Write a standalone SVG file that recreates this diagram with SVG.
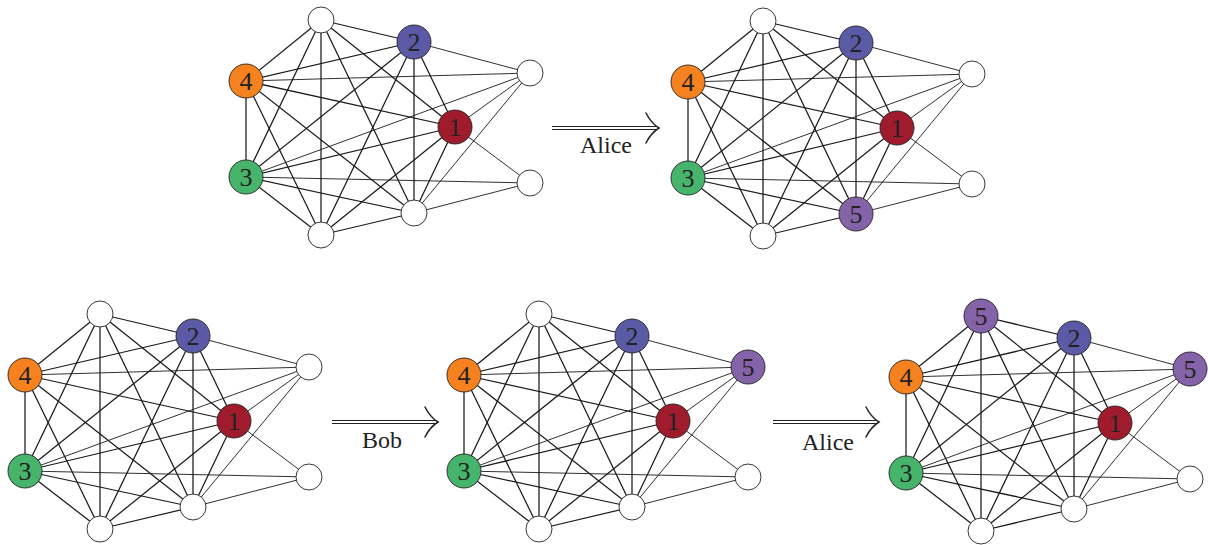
<svg xmlns="http://www.w3.org/2000/svg" width="1208" height="545" viewBox="0 0 1208 545">
<style>
.e{stroke:#1a1a1a;stroke-width:1.25;fill:none}
.t{stroke:#1a1a1a;stroke-width:0.9;fill:none}
.w{fill:#fff;stroke:#222;stroke-width:0.9}
.c{stroke:#222;stroke-width:0.9}
.o{fill:#F5821F}.b{fill:#5A5AA6}.r{fill:#A01C2D}.g{fill:#46B46B}.p{fill:#8463A9}
.l{font-family:"Liberation Serif","DejaVu Serif",serif;font-size:26px;fill:#222;text-anchor:middle}
.a{stroke:#222;stroke-width:1;fill:none}
.h{stroke:#222;stroke-width:1.5;fill:none;stroke-linecap:round}
.at{font-family:"Liberation Serif","DejaVu Serif",serif;font-size:24px;fill:#222}
</style>
<rect width="1208" height="545" fill="#fff"/>

<!-- Graph 1 -->
<g id="graph1" transform="translate(246,81)">
<g id="graph1-edges">
<line class="e" x1="75" y1="-61" x2="168" y2="-39"/><line class="e" x1="75" y1="-61" x2="0" y2="0"/><line class="e" x1="75" y1="-61" x2="0" y2="96"/><line class="e" x1="75" y1="-61" x2="75" y2="154"/><line class="e" x1="75" y1="-61" x2="168" y2="132"/><line class="e" x1="75" y1="-61" x2="209" y2="46"/>
<line class="e" x1="168" y1="-39" x2="0" y2="0"/><line class="e" x1="168" y1="-39" x2="209" y2="46"/><line class="e" x1="168" y1="-39" x2="168" y2="132"/><line class="e" x1="168" y1="-39" x2="0" y2="96"/><line class="e" x1="168" y1="-39" x2="75" y2="154"/>
<line class="e" x1="0" y1="0" x2="209" y2="46"/><line class="e" x1="0" y1="0" x2="0" y2="96"/><line class="e" x1="0" y1="0" x2="75" y2="154"/><line class="e" x1="0" y1="0" x2="168" y2="132"/>
<line class="e" x1="209" y1="46" x2="0" y2="96"/><line class="e" x1="209" y1="46" x2="168" y2="132"/><line class="e" x1="209" y1="46" x2="75" y2="154"/>
<line class="e" x1="0" y1="96" x2="168" y2="132"/><line class="e" x1="0" y1="96" x2="75" y2="154"/><line class="e" x1="168" y1="132" x2="75" y2="154"/>
<line class="t" x1="168" y1="-39" x2="284" y2="-8"/><line class="t" x1="0" y1="0" x2="284" y2="-8"/><line class="t" x1="209" y1="46" x2="284" y2="-8"/><line class="t" x1="0" y1="96" x2="284" y2="-8"/><line class="t" x1="284" y1="-8" x2="168" y2="132"/><line class="t" x1="209" y1="46" x2="284" y2="102"/><line class="t" x1="0" y1="96" x2="284" y2="102"/><line class="t" x1="284" y1="102" x2="168" y2="132"/>
</g>
<g id="g1-top"><circle class="w" cx="75" cy="-61" r="13"/></g>
<g id="g1-n2"><circle class="c b" cx="168" cy="-39" r="17"/><text class="l" x="168" y="-30">2</text></g>
<g id="g1-rt"><circle class="w" cx="284" cy="-8" r="13"/></g>
<g id="g1-n4"><circle class="c o" cx="0" cy="0" r="17"/><text class="l" x="0" y="9">4</text></g>
<g id="g1-n1"><circle class="c r" cx="209" cy="46" r="17"/><text class="l" x="209" y="55">1</text></g>
<g id="g1-n3"><circle class="c g" cx="0" cy="96" r="17"/><text class="l" x="0" y="105">3</text></g>
<g id="g1-rb"><circle class="w" cx="284" cy="102" r="13"/></g>
<g id="g1-bm"><circle class="w" cx="168" cy="132" r="13"/></g>
<g id="g1-bt"><circle class="w" cx="75" cy="154" r="13"/></g>
</g>

<!-- Graph 2 -->
<g id="graph2" transform="translate(688,82)">
<g id="graph2-edges">
<line class="e" x1="75" y1="-61" x2="168" y2="-39"/><line class="e" x1="75" y1="-61" x2="0" y2="0"/><line class="e" x1="75" y1="-61" x2="0" y2="96"/><line class="e" x1="75" y1="-61" x2="75" y2="154"/><line class="e" x1="75" y1="-61" x2="168" y2="132"/><line class="e" x1="75" y1="-61" x2="209" y2="46"/>
<line class="e" x1="168" y1="-39" x2="0" y2="0"/><line class="e" x1="168" y1="-39" x2="209" y2="46"/><line class="e" x1="168" y1="-39" x2="168" y2="132"/><line class="e" x1="168" y1="-39" x2="0" y2="96"/><line class="e" x1="168" y1="-39" x2="75" y2="154"/>
<line class="e" x1="0" y1="0" x2="209" y2="46"/><line class="e" x1="0" y1="0" x2="0" y2="96"/><line class="e" x1="0" y1="0" x2="75" y2="154"/><line class="e" x1="0" y1="0" x2="168" y2="132"/>
<line class="e" x1="209" y1="46" x2="0" y2="96"/><line class="e" x1="209" y1="46" x2="168" y2="132"/><line class="e" x1="209" y1="46" x2="75" y2="154"/>
<line class="e" x1="0" y1="96" x2="168" y2="132"/><line class="e" x1="0" y1="96" x2="75" y2="154"/><line class="e" x1="168" y1="132" x2="75" y2="154"/>
<line class="t" x1="168" y1="-39" x2="284" y2="-8"/><line class="t" x1="0" y1="0" x2="284" y2="-8"/><line class="t" x1="209" y1="46" x2="284" y2="-8"/><line class="t" x1="0" y1="96" x2="284" y2="-8"/><line class="t" x1="284" y1="-8" x2="168" y2="132"/><line class="t" x1="209" y1="46" x2="284" y2="102"/><line class="t" x1="0" y1="96" x2="284" y2="102"/><line class="t" x1="284" y1="102" x2="168" y2="132"/>
</g>
<g id="g2-top"><circle class="w" cx="75" cy="-61" r="13"/></g>
<g id="g2-n2"><circle class="c b" cx="168" cy="-39" r="17"/><text class="l" x="168" y="-30">2</text></g>
<g id="g2-rt"><circle class="w" cx="284" cy="-8" r="13"/></g>
<g id="g2-n4"><circle class="c o" cx="0" cy="0" r="17"/><text class="l" x="0" y="9">4</text></g>
<g id="g2-n1"><circle class="c r" cx="209" cy="46" r="17"/><text class="l" x="209" y="55">1</text></g>
<g id="g2-n3"><circle class="c g" cx="0" cy="96" r="17"/><text class="l" x="0" y="105">3</text></g>
<g id="g2-rb"><circle class="w" cx="284" cy="102" r="13"/></g>
<g id="g2-n5"><circle class="c p" cx="168" cy="132" r="17"/><text class="l" x="168" y="141">5</text></g>
<g id="g2-bt"><circle class="w" cx="75" cy="154" r="13"/></g>
</g>

<!-- Graph 3 -->
<g id="graph3" transform="translate(25,375)">
<g id="graph3-edges">
<line class="e" x1="75" y1="-61" x2="168" y2="-39"/><line class="e" x1="75" y1="-61" x2="0" y2="0"/><line class="e" x1="75" y1="-61" x2="0" y2="96"/><line class="e" x1="75" y1="-61" x2="75" y2="154"/><line class="e" x1="75" y1="-61" x2="168" y2="132"/><line class="e" x1="75" y1="-61" x2="209" y2="46"/>
<line class="e" x1="168" y1="-39" x2="0" y2="0"/><line class="e" x1="168" y1="-39" x2="209" y2="46"/><line class="e" x1="168" y1="-39" x2="168" y2="132"/><line class="e" x1="168" y1="-39" x2="0" y2="96"/><line class="e" x1="168" y1="-39" x2="75" y2="154"/>
<line class="e" x1="0" y1="0" x2="209" y2="46"/><line class="e" x1="0" y1="0" x2="0" y2="96"/><line class="e" x1="0" y1="0" x2="75" y2="154"/><line class="e" x1="0" y1="0" x2="168" y2="132"/>
<line class="e" x1="209" y1="46" x2="0" y2="96"/><line class="e" x1="209" y1="46" x2="168" y2="132"/><line class="e" x1="209" y1="46" x2="75" y2="154"/>
<line class="e" x1="0" y1="96" x2="168" y2="132"/><line class="e" x1="0" y1="96" x2="75" y2="154"/><line class="e" x1="168" y1="132" x2="75" y2="154"/>
<line class="t" x1="168" y1="-39" x2="284" y2="-8"/><line class="t" x1="0" y1="0" x2="284" y2="-8"/><line class="t" x1="209" y1="46" x2="284" y2="-8"/><line class="t" x1="0" y1="96" x2="284" y2="-8"/><line class="t" x1="284" y1="-8" x2="168" y2="132"/><line class="t" x1="209" y1="46" x2="284" y2="102"/><line class="t" x1="0" y1="96" x2="284" y2="102"/><line class="t" x1="284" y1="102" x2="168" y2="132"/>
</g>
<g id="g3-top"><circle class="w" cx="75" cy="-61" r="13"/></g>
<g id="g3-n2"><circle class="c b" cx="168" cy="-39" r="17"/><text class="l" x="168" y="-30">2</text></g>
<g id="g3-rt"><circle class="w" cx="284" cy="-8" r="13"/></g>
<g id="g3-n4"><circle class="c o" cx="0" cy="0" r="17"/><text class="l" x="0" y="9">4</text></g>
<g id="g3-n1"><circle class="c r" cx="209" cy="46" r="17"/><text class="l" x="209" y="55">1</text></g>
<g id="g3-n3"><circle class="c g" cx="0" cy="96" r="17"/><text class="l" x="0" y="105">3</text></g>
<g id="g3-rb"><circle class="w" cx="284" cy="102" r="13"/></g>
<g id="g3-bm"><circle class="w" cx="168" cy="132" r="13"/></g>
<g id="g3-bt"><circle class="w" cx="75" cy="154" r="13"/></g>
</g>

<!-- Graph 4 -->
<g id="graph4" transform="translate(464,375)">
<g id="graph4-edges">
<line class="e" x1="75" y1="-61" x2="168" y2="-39"/><line class="e" x1="75" y1="-61" x2="0" y2="0"/><line class="e" x1="75" y1="-61" x2="0" y2="96"/><line class="e" x1="75" y1="-61" x2="75" y2="154"/><line class="e" x1="75" y1="-61" x2="168" y2="132"/><line class="e" x1="75" y1="-61" x2="209" y2="46"/>
<line class="e" x1="168" y1="-39" x2="0" y2="0"/><line class="e" x1="168" y1="-39" x2="209" y2="46"/><line class="e" x1="168" y1="-39" x2="168" y2="132"/><line class="e" x1="168" y1="-39" x2="0" y2="96"/><line class="e" x1="168" y1="-39" x2="75" y2="154"/>
<line class="e" x1="0" y1="0" x2="209" y2="46"/><line class="e" x1="0" y1="0" x2="0" y2="96"/><line class="e" x1="0" y1="0" x2="75" y2="154"/><line class="e" x1="0" y1="0" x2="168" y2="132"/>
<line class="e" x1="209" y1="46" x2="0" y2="96"/><line class="e" x1="209" y1="46" x2="168" y2="132"/><line class="e" x1="209" y1="46" x2="75" y2="154"/>
<line class="e" x1="0" y1="96" x2="168" y2="132"/><line class="e" x1="0" y1="96" x2="75" y2="154"/><line class="e" x1="168" y1="132" x2="75" y2="154"/>
<line class="t" x1="168" y1="-39" x2="284" y2="-8"/><line class="t" x1="0" y1="0" x2="284" y2="-8"/><line class="t" x1="209" y1="46" x2="284" y2="-8"/><line class="t" x1="0" y1="96" x2="284" y2="-8"/><line class="t" x1="284" y1="-8" x2="168" y2="132"/><line class="t" x1="209" y1="46" x2="284" y2="102"/><line class="t" x1="0" y1="96" x2="284" y2="102"/><line class="t" x1="284" y1="102" x2="168" y2="132"/>
</g>
<g id="g4-top"><circle class="w" cx="75" cy="-61" r="13"/></g>
<g id="g4-n2"><circle class="c b" cx="168" cy="-39" r="17"/><text class="l" x="168" y="-30">2</text></g>
<g id="g4-n5"><circle class="c p" cx="284" cy="-8" r="17"/><text class="l" x="284" y="1">5</text></g>
<g id="g4-n4"><circle class="c o" cx="0" cy="0" r="17"/><text class="l" x="0" y="9">4</text></g>
<g id="g4-n1"><circle class="c r" cx="209" cy="46" r="17"/><text class="l" x="209" y="55">1</text></g>
<g id="g4-n3"><circle class="c g" cx="0" cy="96" r="17"/><text class="l" x="0" y="105">3</text></g>
<g id="g4-rb"><circle class="w" cx="284" cy="102" r="13"/></g>
<g id="g4-bm"><circle class="w" cx="168" cy="132" r="13"/></g>
<g id="g4-bt"><circle class="w" cx="75" cy="154" r="13"/></g>
</g>

<!-- Graph 5 -->
<g id="graph5" transform="translate(906,377)">
<g id="graph5-edges">
<line class="e" x1="75" y1="-61" x2="168" y2="-39"/><line class="e" x1="75" y1="-61" x2="0" y2="0"/><line class="e" x1="75" y1="-61" x2="0" y2="96"/><line class="e" x1="75" y1="-61" x2="75" y2="154"/><line class="e" x1="75" y1="-61" x2="168" y2="132"/><line class="e" x1="75" y1="-61" x2="209" y2="46"/>
<line class="e" x1="168" y1="-39" x2="0" y2="0"/><line class="e" x1="168" y1="-39" x2="209" y2="46"/><line class="e" x1="168" y1="-39" x2="168" y2="132"/><line class="e" x1="168" y1="-39" x2="0" y2="96"/><line class="e" x1="168" y1="-39" x2="75" y2="154"/>
<line class="e" x1="0" y1="0" x2="209" y2="46"/><line class="e" x1="0" y1="0" x2="0" y2="96"/><line class="e" x1="0" y1="0" x2="75" y2="154"/><line class="e" x1="0" y1="0" x2="168" y2="132"/>
<line class="e" x1="209" y1="46" x2="0" y2="96"/><line class="e" x1="209" y1="46" x2="168" y2="132"/><line class="e" x1="209" y1="46" x2="75" y2="154"/>
<line class="e" x1="0" y1="96" x2="168" y2="132"/><line class="e" x1="0" y1="96" x2="75" y2="154"/><line class="e" x1="168" y1="132" x2="75" y2="154"/>
<line class="t" x1="168" y1="-39" x2="284" y2="-8"/><line class="t" x1="0" y1="0" x2="284" y2="-8"/><line class="t" x1="209" y1="46" x2="284" y2="-8"/><line class="t" x1="0" y1="96" x2="284" y2="-8"/><line class="t" x1="284" y1="-8" x2="168" y2="132"/><line class="t" x1="209" y1="46" x2="284" y2="102"/><line class="t" x1="0" y1="96" x2="284" y2="102"/><line class="t" x1="284" y1="102" x2="168" y2="132"/>
</g>
<g id="g5-n5a"><circle class="c p" cx="75" cy="-61" r="17"/><text class="l" x="75" y="-52">5</text></g>
<g id="g5-n2"><circle class="c b" cx="168" cy="-39" r="17"/><text class="l" x="168" y="-30">2</text></g>
<g id="g5-n5b"><circle class="c p" cx="284" cy="-8" r="17"/><text class="l" x="284" y="1">5</text></g>
<g id="g5-n4"><circle class="c o" cx="0" cy="0" r="17"/><text class="l" x="0" y="9">4</text></g>
<g id="g5-n1"><circle class="c r" cx="209" cy="46" r="17"/><text class="l" x="209" y="55">1</text></g>
<g id="g5-n3"><circle class="c g" cx="0" cy="96" r="17"/><text class="l" x="0" y="105">3</text></g>
<g id="g5-rb"><circle class="w" cx="284" cy="102" r="13"/></g>
<g id="g5-bm"><circle class="w" cx="168" cy="132" r="13"/></g>
<g id="g5-bt"><circle class="w" cx="75" cy="154" r="13"/></g>
</g>

<!-- Arrows -->
<g id="arrows">
<g id="arrow1">
<line class="a" x1="552" y1="126.5" x2="656" y2="126.5"/><line class="a" x1="552" y1="129.5" x2="656" y2="129.5"/>
<path class="h" d="M646,113 C649,119 654,125 659,128 C654,131 649,137 646,143"/>
<text class="at" x="580" y="153">Alice</text>
</g>
<g id="arrow2">
<line class="a" x1="332" y1="420.5" x2="435" y2="420.5"/><line class="a" x1="332" y1="423.5" x2="435" y2="423.5"/>
<path class="h" d="M425,407 C428,413 433,419 438,422 C433,425 428,431 425,437"/>
<text class="at" x="362" y="448">Bob</text>
</g>
<g id="arrow3">
<line class="a" x1="773" y1="420.5" x2="876" y2="420.5"/><line class="a" x1="773" y1="423.5" x2="876" y2="423.5"/>
<path class="h" d="M866,407 C869,413 874,419 879,422 C874,425 869,431 866,437"/>
<text class="at" x="802" y="450">Alice</text>
</g>
</g>
</svg>
